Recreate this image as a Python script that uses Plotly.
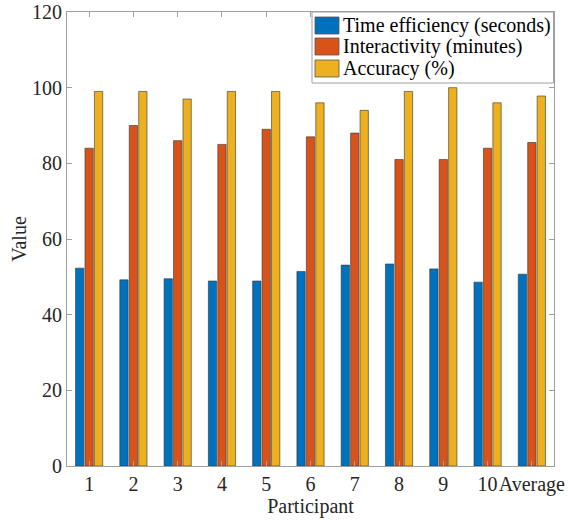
import plotly.graph_objects as go

categories = ["1", "2", "3", "4", "5", "6", "7", "8", "9", "10", "Average"]
time_eff = [52.3, 49.2, 49.5, 48.9, 48.9, 51.4, 53.1, 53.4, 52.1, 48.6, 50.7]
interactivity = [84, 90, 86, 85, 89, 87, 88, 81, 81, 84, 85.5]
accuracy = [99, 99, 97, 99, 99, 96, 94, 99, 100, 96, 97.8]

names = ["Time efficiency (seconds)", "Interactivity (minutes)", "Accuracy (%)"]
colors = ["#0072BD", "#D95319", "#EDB120"]
series = [time_eff, interactivity, accuracy]

xs = list(range(1, len(categories) + 1))

W, H = 568, 524
L, R, T, B = 67, 14, 12, 58
PW, PH = W - L - R, H - T - B


def px(x):
    return (x - L) / PW


def py(y):
    return (H - B - y) / PH


fig = go.Figure()
for name, color, vals in zip(names, colors, series):
    fig.add_trace(go.Bar(
        x=xs, y=vals, name=name, showlegend=False,
        marker=dict(color=color, line=dict(color="#333333", width=0.6)),
    ))

font_family = "Liberation Serif"

# custom legend (MATLAB style)
shapes = [dict(type="rect", xref="paper", yref="paper",
               x0=px(312), x1=px(553.5), y0=py(83), y1=py(12),
               line=dict(color="#a0a0a0", width=1), fillcolor="white", layer="above")]
annotations = []
centers = [25.5, 46.5, 68.5]
for name, color, cy in zip(names, colors, centers):
    shapes.append(dict(type="rect", xref="paper", yref="paper",
                       x0=px(315), x1=px(339), y0=py(cy + 8.5), y1=py(cy - 8.5),
                       line=dict(color="#555555", width=0.8), fillcolor=color, layer="above"))
    annotations.append(dict(xref="paper", yref="paper", x=px(341), y=py(cy),
                            xanchor="left", yanchor="middle", showarrow=False,
                            text=name, font=dict(family=font_family, size=20, color="#000000")))

fig.update_layout(
    width=W, height=H,
    margin=dict(l=L, r=R, t=T, b=B, autoexpand=False),
    plot_bgcolor="white", paper_bgcolor="white",
    barmode="group", bargap=0.36, bargroupgap=0.12,
    font=dict(family=font_family, size=20, color="#262626"),
    showlegend=False,
    shapes=shapes, annotations=annotations,
)
fig.update_xaxes(
    range=[0.5, 11.5], tickmode="array", tickvals=xs, ticktext=categories,
    tickangle=0,
    showline=True, linecolor="#a0a0a0", linewidth=1, mirror="ticks",
    ticks="inside", ticklen=5, tickcolor="#a0a0a0",
    showgrid=False, zeroline=False, automargin=False,
    title=dict(text="Participant", standoff=2, font=dict(family=font_family, size=20)),
    tickfont=dict(family=font_family, size=20),
)
fig.update_yaxes(
    range=[0, 120], tickvals=[0, 20, 40, 60, 80, 100, 120],
    showline=True, linecolor="#a0a0a0", linewidth=1, mirror="ticks",
    ticks="inside", ticklen=5, tickcolor="#a0a0a0",
    showgrid=False, zeroline=False, automargin=False,
    title=dict(text="Value", standoff=0, font=dict(family=font_family, size=20)),
    tickfont=dict(family=font_family, size=20),
)
fig.write_html("out.html", config={"displayModeBar": False},
               post_script="document.body.style.margin='0';")
